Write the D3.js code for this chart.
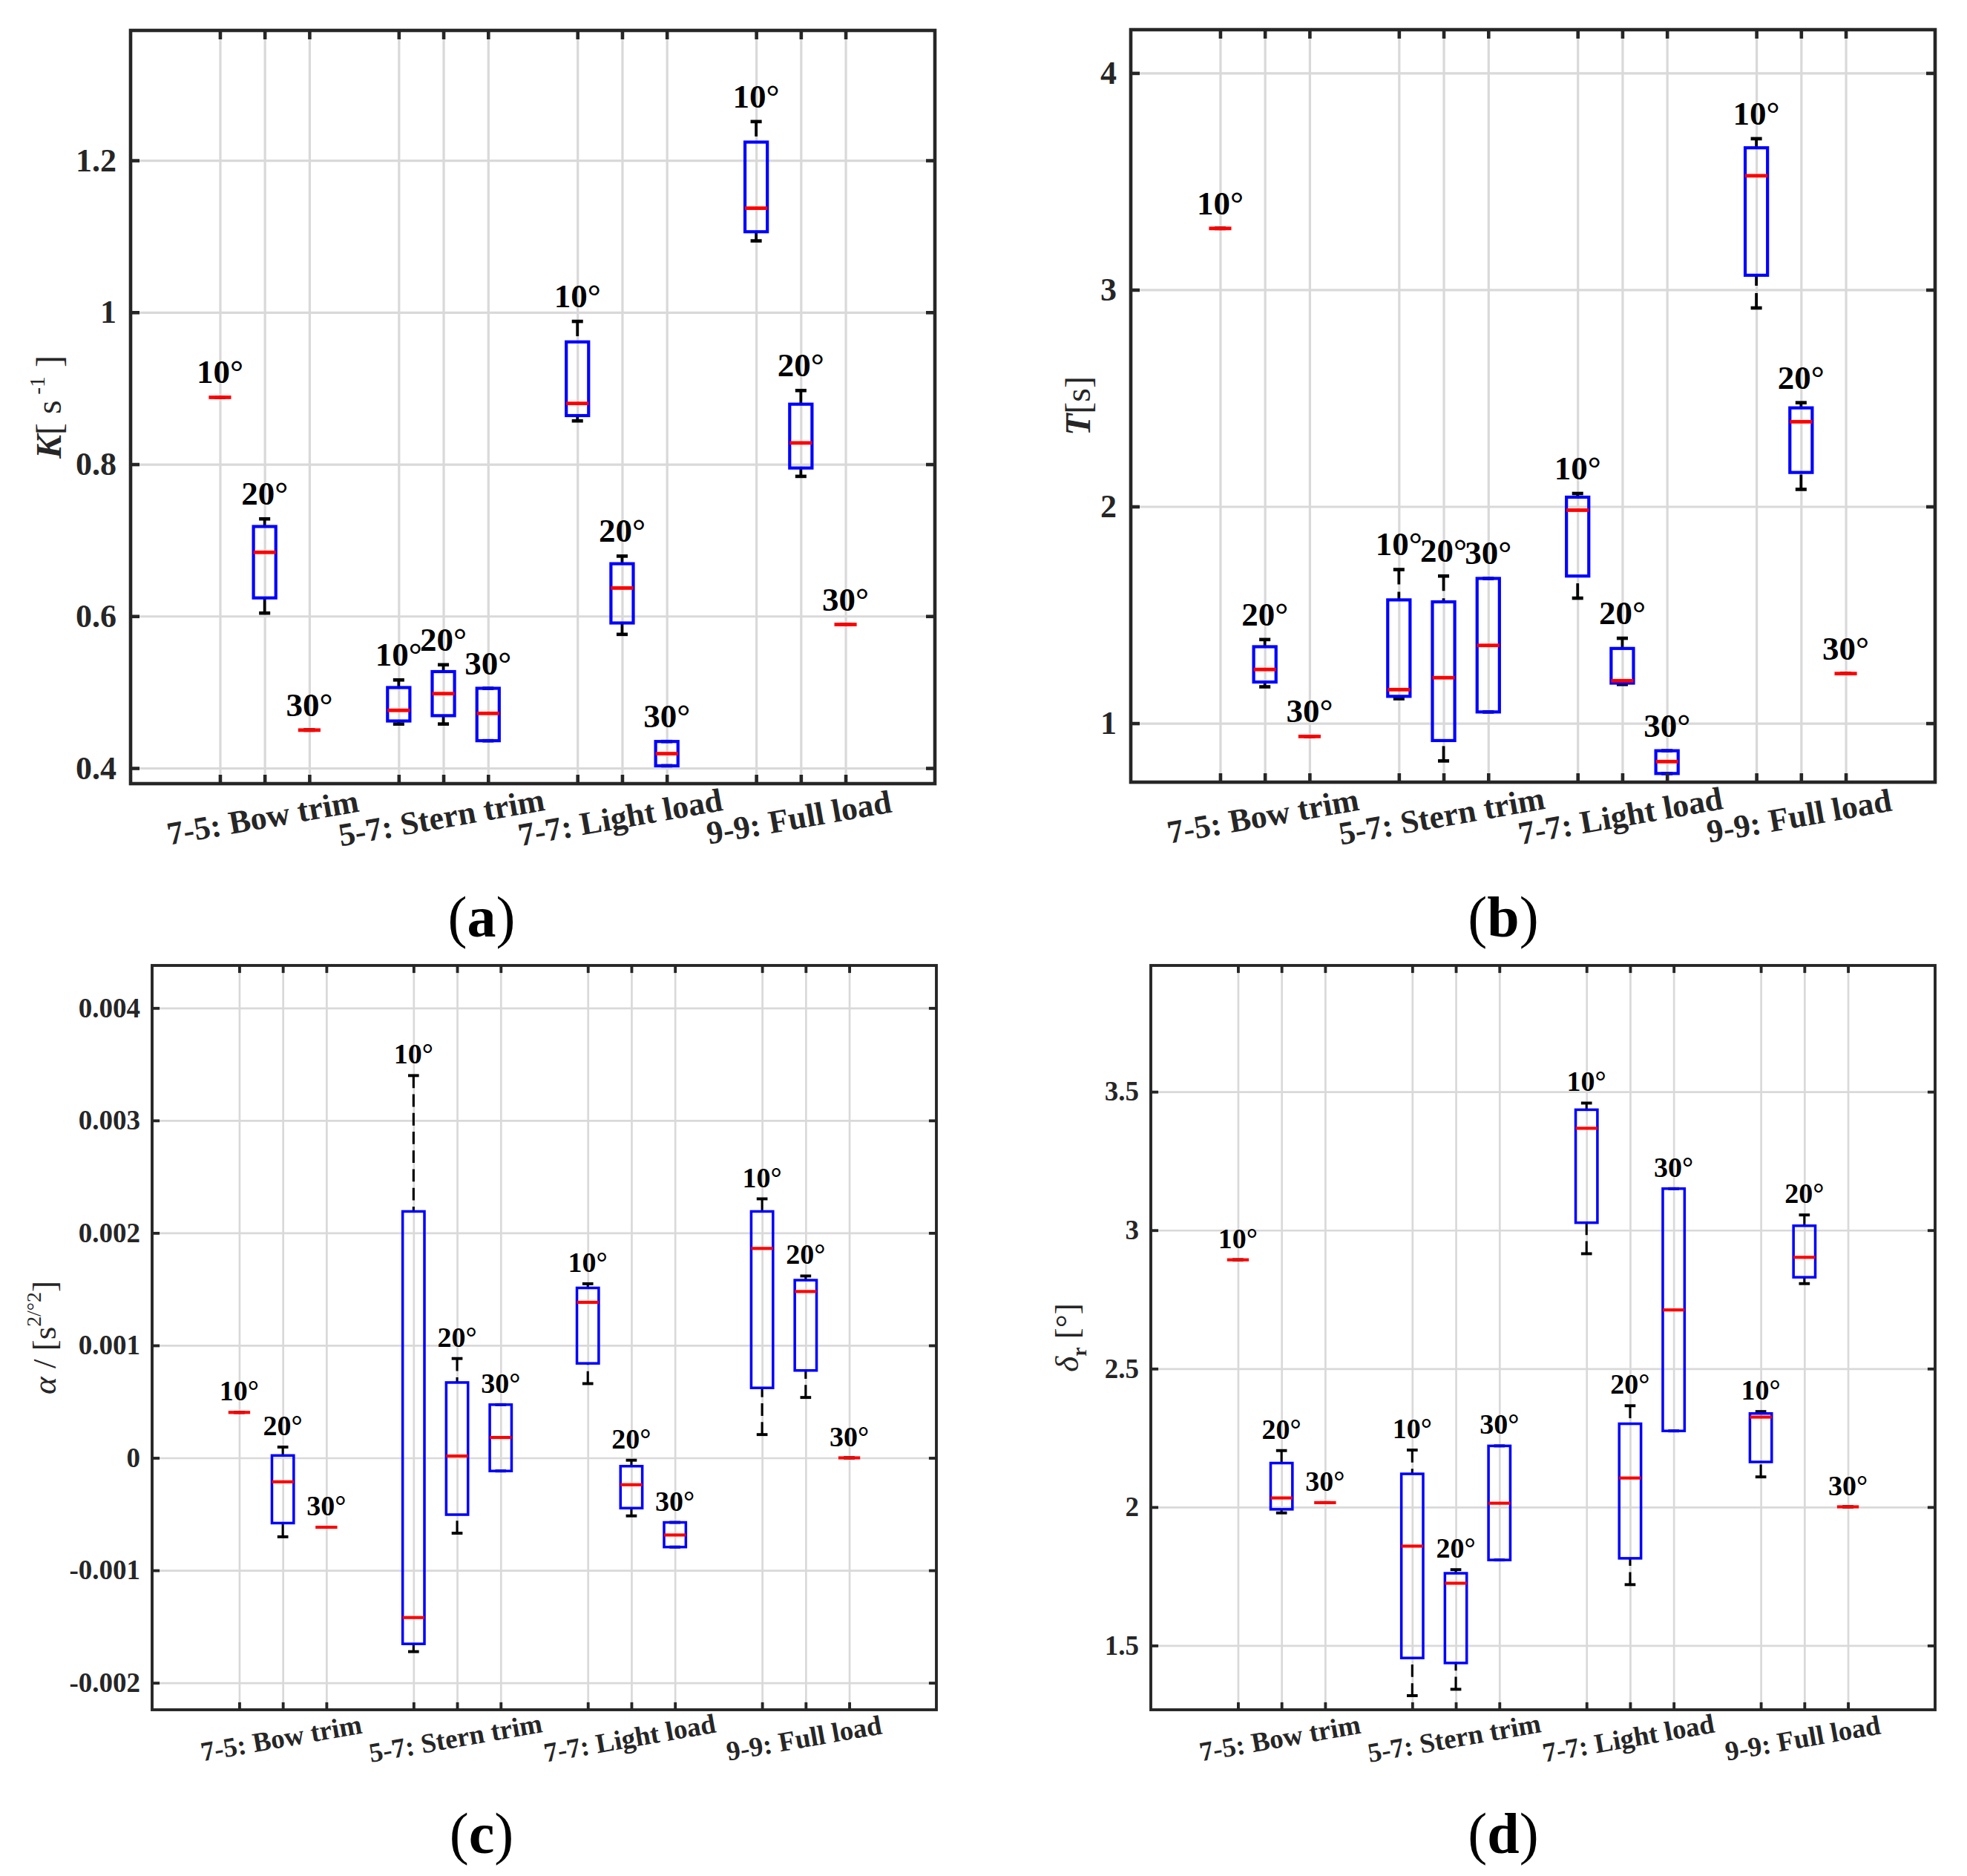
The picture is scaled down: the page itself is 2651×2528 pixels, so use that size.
<!DOCTYPE html>
<html>
<head>
<meta charset="utf-8">
<script src="https://cdn.jsdelivr.net/npm/d3@7"></script>
<style>
  body { margin: 0; background: #fff; }
  svg { display: block; }
</style>
</head>
<body>
<svg id="fig" width="2651" height="2528"></svg>
<script>
// box positions on the x axis (4, 8 and 12 are left empty between conditions)
var positions = [1, 2, 3, 5, 6, 7, 9, 10, 11, 13, 14, 15];
var angleLabels = ["10°", "20°", "30°", "10°", "20°", "30°", "10°", "20°", "30°", "10°", "20°", "30°"];
var groupNames = ["7-5: Bow trim", "5-7: Stern trim", "7-7: Light load", "9-9: Full load"];
var groupCentres = [2, 6, 10, 14];

// each box: [lower whisker, q1, median, q3, upper whisker]
var kStats = [
    [0.888, 0.888, 0.888, 0.888, 0.888],
    [0.604, 0.624, 0.684, 0.718, 0.728],
    [0.450, 0.450, 0.450, 0.450, 0.450],
    [0.458, 0.462, 0.476, 0.506, 0.516],
    [0.458, 0.469, 0.498, 0.527, 0.536],
    [0.436, 0.436, 0.472, 0.505, 0.505],
    [0.857, 0.864, 0.880, 0.961, 0.988],
    [0.576, 0.591, 0.637, 0.669, 0.679],
    [0.403, 0.403, 0.419, 0.435, 0.435],
    [1.094, 1.106, 1.137, 1.224, 1.251],
    [0.784, 0.795, 0.828, 0.879, 0.897],
    [0.589, 0.589, 0.589, 0.589, 0.589]
];
var tStats = [
    [3.283, 3.283, 3.283, 3.283, 3.283],
    [1.168, 1.190, 1.248, 1.353, 1.386],
    [0.939, 0.939, 0.939, 0.939, 0.939],
    [1.113, 1.124, 1.155, 1.569, 1.709],
    [0.826, 0.920, 1.210, 1.560, 1.679],
    [1.052, 1.052, 1.359, 1.668, 1.668],
    [1.577, 1.679, 1.983, 2.043, 2.060],
    [1.179, 1.185, 1.196, 1.345, 1.392],
    [0.768, 0.768, 0.823, 0.873, 0.873],
    [2.916, 3.067, 3.526, 3.655, 3.697],
    [2.079, 2.157, 2.391, 2.455, 2.479],
    [1.229, 1.229, 1.229, 1.229, 1.229]
];
var alphaStats = [
    [0.000404, 0.000404, 0.000404, 0.000404, 0.000404],
    [-0.000702, -0.000580, -0.000213, 0.000021, 0.000096],
    [-0.000617, -0.000617, -0.000617, -0.000617, -0.000617],
    [-0.001723, -0.001654, -0.001420, 0.002191, 0.003399],
    [-0.000670, -0.000505, 0.000016, 0.000670, 0.000883],
    [-0.000117, -0.000117, 0.000181, 0.000473, 0.000473],
    [0.000660, 0.000840, 0.001383, 0.001511, 0.001548],
    [-0.000516, -0.000447, -0.000239, -0.000074, -0.000021],
    [-0.000793, -0.000793, -0.000686, -0.000574, -0.000574],
    [0.000207, 0.000622, 0.001862, 0.002191, 0.002303],
    [0.000537, 0.000777, 0.001479, 0.001580, 0.001617],
    [0, 0, 0, 0, 0]
];
var deltaStats = [
    [2.893, 2.893, 2.893, 2.893, 2.893],
    [1.979, 1.992, 2.033, 2.159, 2.204],
    [2.016, 2.016, 2.016, 2.016, 2.016],
    [1.319, 1.455, 1.859, 2.120, 2.206],
    [1.342, 1.437, 1.725, 1.761, 1.774],
    [1.809, 1.809, 2.014, 2.221, 2.221],
    [2.915, 3.027, 3.368, 3.435, 3.459],
    [1.720, 1.815, 2.105, 2.301, 2.366],
    [2.275, 2.275, 2.712, 3.150, 3.150],
    [2.109, 2.163, 2.325, 2.338, 2.345],
    [2.807, 2.830, 2.902, 3.016, 3.055],
    [2.001, 2.001, 2.001, 2.001, 2.001]
];

var kTicks = [0.4, 0.6, 0.8, 1, 1.2];
var tTicks = [1, 2, 3, 4];
var alphaTicks = [-0.002, -0.001, 0, 0.001, 0.002, 0.003, 0.004];
var deltaTicks = [1.5, 2, 2.5, 3, 3.5];

var serif = "'Liberation Serif', 'Times New Roman', serif";
var svg = d3.select("#fig");
svg.append("rect").attr("width", 2651).attr("height", 2528).attr("fill", "#fff");

var panels = [
    { stats: kStats, ticks: kTicks, domain: [0.3795, 1.371], box: [176, 1260, 41, 1056],
      font: 44, labelX: 82, tag: "a", tagX: 649, tagY: 1262, yLabel: "K" },
    { stats: tStats, ticks: tTicks, domain: [0.728, 4.2], box: [1524, 2608, 40, 1054],
      font: 44, labelX: 1469, tag: "b", tagX: 2026, tagY: 1262, yLabel: "T" },
    { stats: alphaStats, ticks: alphaTicks, domain: [-0.00224, 0.004378], box: [205, 1262, 1301, 2304],
      font: 37, labelX: 75, tag: "c", tagX: 649, tagY: 2497, yLabel: "alpha" },
    { stats: deltaStats, ticks: deltaTicks, domain: [1.268, 3.956], box: [1551, 2608, 1301, 2304],
      font: 37, labelX: 1453, tag: "d", tagX: 2026, tagY: 2497, yLabel: "delta" }
];

panels.forEach(drawPanel);

function drawPanel(p) {
    var left = p.box[0], right = p.box[1], top = p.box[2], bottom = p.box[3];
    var s = p.font / 44;   // lower panels are drawn a little smaller
    var lw = 4.2 * s;

    var x = d3.scaleLinear().domain([-1, 17]).range([left, right]);
    var y = d3.scaleLinear().domain(p.domain).range([bottom, top]);
    var g = svg.append("g");

    // grid
    g.append("g")
        .attr("transform", "translate(0," + bottom + ")")
        .call(d3.axisBottom(x).tickValues(positions).tickSize(-(bottom - top)).tickFormat(""))
        .call(function (a) { a.select(".domain").remove(); })
        .selectAll("line").attr("stroke", "#d9d9d9").attr("stroke-width", 3.2 * s);
    g.append("g")
        .attr("transform", "translate(" + left + ",0)")
        .call(d3.axisLeft(y).tickValues(p.ticks).tickSize(-(right - left)).tickFormat(""))
        .call(function (a) { a.select(".domain").remove(); })
        .selectAll("line").attr("stroke", "#d9d9d9").attr("stroke-width", 3.2 * s);

    // whiskers (dashed) and their end caps
    var boxes = g.append("g");
    p.stats.forEach(function (d, i) {
        var cx = x(positions[i]);
        [[d[4], d[3]], [d[0], d[1]]].forEach(function (w) {
            if (w[0] === w[1]) return;
            boxes.append("line")
                .attr("x1", cx).attr("x2", cx)
                .attr("y1", y(w[0])).attr("y2", y(w[1]))
                .attr("stroke", "#000").attr("stroke-width", lw - 0.4)
                .attr("stroke-dasharray", (20 * s) + "," + (10 * s));
        });
        [d[0], d[4]].forEach(function (v) {
            boxes.append("line")
                .attr("x1", x(positions[i] - 0.125)).attr("x2", x(positions[i] + 0.125))
                .attr("y1", y(v)).attr("y2", y(v))
                .attr("stroke", "#000").attr("stroke-width", lw + 0.4);
        });
    });

    boxes.selectAll("rect.box")
        .data(p.stats)
        .enter().append("rect")
        .attr("class", "box")
        .attr("x", function (d, i) { return x(positions[i] - 0.25); })
        .attr("width", function (d, i) { return x(positions[i] + 0.25) - x(positions[i] - 0.25); })
        .attr("y", function (d) { return y(d[3]); })
        .attr("height", function (d) { return y(d[1]) - y(d[3]); })
        .attr("fill", "none")
        .attr("stroke", "#0000ff")
        .attr("stroke-width", lw);

    boxes.selectAll("line.median")
        .data(p.stats)
        .enter().append("line")
        .attr("class", "median")
        .attr("x1", function (d, i) { return x(positions[i] - 0.25); })
        .attr("x2", function (d, i) { return x(positions[i] + 0.25); })
        .attr("y1", function (d) { return y(d[2]); })
        .attr("y2", function (d) { return y(d[2]); })
        .attr("stroke", "#ff0000")
        .attr("stroke-width", lw + 0.6);

    // angle labels above each box
    g.selectAll("text.angle")
        .data(p.stats)
        .enter().append("text")
        .attr("class", "angle")
        .attr("x", function (d, i) { return x(positions[i]); })
        .attr("y", function (d) { return y(d[4]) - 19 * s; })
        .attr("text-anchor", "middle")
        .attr("font-family", serif)
        .attr("font-weight", "bold")
        .attr("font-size", p.font + 1)
        .attr("fill", "#000")
        .text(function (d, i) { return angleLabels[i]; });

    // ticks pointing inwards on all four sides
    var tick = 12 * s;
    var axisStyle = function (a) {
        a.select(".domain").remove();
        a.selectAll("line").attr("stroke", "#262626").attr("stroke-width", 4.6 * s);
        a.selectAll("text")
            .attr("font-family", serif).attr("font-weight", "bold")
            .attr("font-size", p.font).attr("fill", "#262626");
    };
    g.append("g").attr("transform", "translate(0," + bottom + ")")
        .call(d3.axisBottom(x).tickValues(positions).tickSizeInner(-tick).tickSizeOuter(0).tickFormat(""))
        .call(axisStyle);
    g.append("g").attr("transform", "translate(0," + top + ")")
        .call(d3.axisTop(x).tickValues(positions).tickSizeInner(-tick).tickSizeOuter(0).tickFormat(""))
        .call(axisStyle);
    g.append("g").attr("transform", "translate(" + left + ",0)")
        .call(d3.axisLeft(y).tickValues(p.ticks).tickSizeInner(-tick).tickSizeOuter(0)
            .tickPadding(19 * s)
            .tickFormat(function (v) { return String(+v.toFixed(3)); }))
        .call(axisStyle);
    g.append("g").attr("transform", "translate(" + right + ",0)")
        .call(d3.axisRight(y).tickValues(p.ticks).tickSizeInner(-tick).tickSizeOuter(0).tickFormat(""))
        .call(axisStyle);

    g.append("rect")
        .attr("x", left).attr("y", top)
        .attr("width", right - left).attr("height", bottom - top)
        .attr("fill", "none").attr("stroke", "#262626").attr("stroke-width", 4.6 * s);

    // group labels, slightly rotated
    g.selectAll("text.group")
        .data(groupNames)
        .enter().append("text")
        .attr("class", "group")
        .attr("transform", function (d, i) {
            return "translate(" + x(groupCentres[i]) + "," + (bottom + 60 * s) + ") rotate(-10)";
        })
        .attr("text-anchor", "middle")
        .attr("font-family", serif)
        .attr("font-weight", "bold")
        .attr("font-size", p.font)
        .attr("fill", "#262626")
        .text(function (d) { return d; });

    // y axis label
    var yl = svg.append("text")
        .attr("transform", "translate(" + p.labelX + "," + ((top + bottom) / 2) + ") rotate(-90)")
        .attr("text-anchor", "middle")
        .attr("font-family", serif)
        .attr("fill", "#262626");
    var big = p.font === 44 ? 48 : 45, sup = big * 0.62;
    if (p.yLabel === "K") {
        yl.append("tspan").attr("font-size", big).attr("font-weight", "bold").attr("font-style", "italic").text("K");
        yl.append("tspan").attr("font-size", big).text("[ s");
        yl.append("tspan").attr("font-size", sup).attr("dy", -big * 0.45).text(" -1");
        yl.append("tspan").attr("font-size", big).attr("dy", big * 0.45).text(" ]");
    } else if (p.yLabel === "T") {
        yl.append("tspan").attr("font-size", big).attr("font-weight", "bold").attr("font-style", "italic").text("T");
        yl.append("tspan").attr("font-size", big).text("[s]");
    } else if (p.yLabel === "alpha") {
        yl.append("tspan").attr("font-size", big).attr("font-style", "italic").text("α");
        yl.append("tspan").attr("font-size", big).text(" / [s");
        yl.append("tspan").attr("font-size", sup).attr("dy", -big * 0.45).text("2/°2");
        yl.append("tspan").attr("font-size", big).attr("dy", big * 0.45).text("]");
    } else {
        yl.append("tspan").attr("font-size", big).attr("font-style", "italic").text("δ");
        yl.append("tspan").attr("font-size", sup).attr("font-weight", "bold").attr("dy", big * 0.25).text("r");
        yl.append("tspan").attr("font-size", big).attr("dy", -big * 0.25).text(" [°]");
    }

    // panel tag (a), (b) ...
    var tag = svg.append("text")
        .attr("x", p.tagX).attr("y", p.tagY)
        .attr("text-anchor", "middle")
        .attr("font-family", serif)
        .attr("font-size", 78)
        .attr("fill", "#000");
    tag.append("tspan").text("(");
    tag.append("tspan").attr("font-weight", "bold").text(p.tag);
    tag.append("tspan").text(")");
}
</script>
</body>
</html>
